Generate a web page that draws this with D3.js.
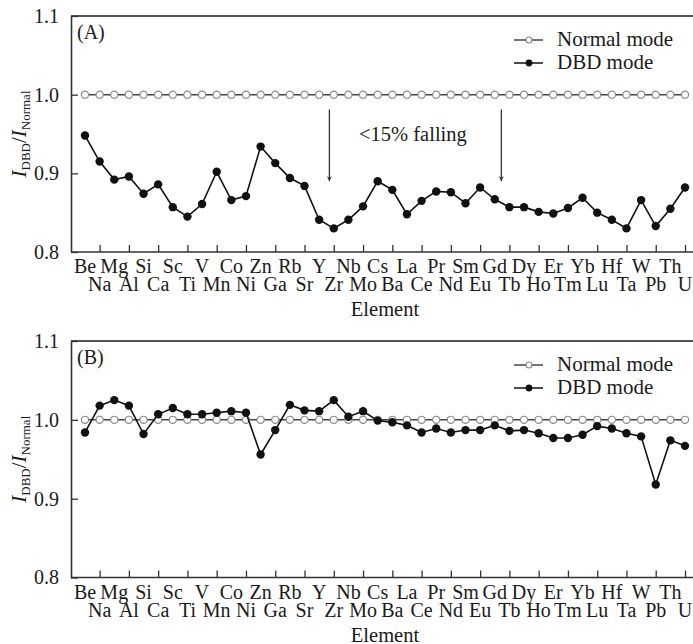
<!DOCTYPE html>
<html>
<head>
<meta charset="utf-8">
<script src="https://cdn.jsdelivr.net/npm/d3@7"></script>
<style>
  body { margin: 0; background: #fff; }
  svg { display: block; }
  text { font-family: "Liberation Serif", "Times New Roman", serif; fill: #1a1a1a; }
</style>
</head>
<body>
<div id="chart"></div>
<script>
var elements = ["Be","Na","Mg","Al","Si","Ca","Sc","Ti","V","Mn","Co","Ni","Zn","Ga",
                "Rb","Sr","Y","Zr","Nb","Mo","Cs","Ba","La","Ce","Pr","Nd","Sm","Eu",
                "Gd","Tb","Dy","Ho","Er","Tm","Yb","Lu","Hf","Ta","W","Pb","Th","U"];

// panel A, DBD / normal
var dbdA = [0.948,0.915,0.892,0.896,0.874,0.886,0.857,0.845,0.861,0.902,0.866,0.871,0.934,0.913,
            0.894,0.884,0.841,0.830,0.841,0.858,0.890,0.879,0.848,0.865,0.877,0.876,0.862,0.882,
            0.867,0.857,0.857,0.851,0.849,0.856,0.869,0.850,0.841,0.830,0.866,0.833,0.855,0.882];

// panel B
var dbdB = [0.984,1.018,1.025,1.018,0.982,1.007,1.015,1.007,1.007,1.009,1.011,1.009,0.956,0.987,
            1.019,1.012,1.011,1.025,1.004,1.011,0.999,0.997,0.993,0.984,0.989,0.984,0.987,0.987,
            0.993,0.986,0.987,0.983,0.977,0.977,0.981,0.992,0.989,0.983,0.979,0.918,0.974,0.967];

var normalVals = elements.map(function(){ return 1.0; });

var yTicks = [0.8, 0.9, 1.0, 1.1];

// annotation in panel A: arrows at fractional element index
var arrowIdx = [16.7, 28.45];
var annotText = "<15% falling";

var width = 693, height = 644;

var svg = d3.select("#chart").append("svg")
  .attr("width", width)
  .attr("height", height)
  .attr("font-family", "Liberation Serif");

svg.append("defs").append("marker")
  .attr("id", "arrowHead")
  .attr("viewBox", "0 0 10 10")
  .attr("refX", 10)
  .attr("refY", 5)
  .attr("markerWidth", 5)
  .attr("markerHeight", 9)
  .attr("markerUnits", "userSpaceOnUse")
  .attr("orient", "auto")
  .append("path")
    .attr("d", "M0,0 L10,5 L0,10 L3,5 Z")
    .attr("fill", "#333");

var x = d3.scaleLinear().domain([0, elements.length - 1]).range([85, 685]);

function drawPanel(top, bottom, tag, values, annotate){
  var left = 71, right = 705;
  var g = svg.append("g");
  var y = d3.scaleLinear().domain([0.8, 1.1]).range([bottom, top]);

  // frame
  g.append("line")
    .attr("x1", left).attr("x2", right)
    .attr("y1", top).attr("y2", top)
    .attr("stroke", "#555").attr("stroke-width", 2);
  g.append("line")
    .attr("x1", right).attr("x2", right)
    .attr("y1", top).attr("y2", bottom)
    .attr("stroke", "#555").attr("stroke-width", 2);

  var yAxis = g.append("g")
    .attr("transform", "translate(" + left + ",0)")
    .call(d3.axisLeft(y).tickValues(yTicks).tickSize(-7).tickSizeOuter(0)
      .tickPadding(12).tickFormat(d3.format(".1f")));
  yAxis.attr("font-family", null);
  yAxis.select(".domain").attr("stroke", "#333").attr("stroke-width", 1.6);
  yAxis.selectAll(".tick line").attr("stroke", "#333").attr("stroke-width", 1.3);
  yAxis.selectAll(".tick text")
    .style("font-size", "20px").attr("fill", "#1a1a1a");

  var oddIdx = d3.range(1, elements.length, 2);
  var xAxis = g.append("g")
    .attr("transform", "translate(0," + bottom + ")")
    .call(d3.axisBottom(x).tickValues(oddIdx).tickSize(-7).tickSizeOuter(0).tickFormat(""));
  xAxis.select(".domain").attr("d", "M" + left + ",0H" + right)
    .attr("stroke", "#333").attr("stroke-width", 1.6);
  xAxis.selectAll(".tick line").attr("stroke", "#333").attr("stroke-width", 1.3);

  g.selectAll(".elLabel")
    .data(elements).enter()
    .append("text")
      .attr("class", "elLabel")
      .attr("x", function(d, i){ return x(i); })
      .attr("y", function(d, i){ return bottom + (i % 2 == 0 ? 21 : 39); })
      .attr("text-anchor", "middle")
      .style("font-size", "20px")
      .text(function(d){ return d; });

  g.append("text")
    .attr("x", 385)
    .attr("y", bottom + 64)
    .attr("text-anchor", "middle")
    .style("font-size", "20.5px")
    .text("Element");

  // y label
  var yl = g.append("text")
    .attr("transform", "translate(26," + ((top + bottom) / 2) + ") rotate(-90)")
    .attr("text-anchor", "middle")
    .style("font-size", "21px");
  yl.append("tspan").style("font-style", "italic").text("I");
  yl.append("tspan").attr("dy", 4).style("font-size", "13px").text("DBD");
  yl.append("tspan").attr("dy", -4).text("/");
  yl.append("tspan").style("font-style", "italic").text("I");
  yl.append("tspan").attr("dy", 4).style("font-size", "13px").text("Normal");

  g.append("text")
    .attr("x", 77)
    .attr("y", top + 23)
    .style("font-size", "20px")
    .text(tag);

  // normal mode
  var line = d3.line()
    .x(function(d, i){ return x(i); })
    .y(function(d){ return y(d); });

  g.append("path")
    .datum(normalVals)
    .attr("d", line)
    .attr("fill", "none")
    .attr("stroke", "#444")
    .attr("stroke-width", 1.5);
  g.selectAll(".normalPt")
    .data(normalVals).enter()
    .append("circle")
      .attr("class", "normalPt")
      .attr("cx", function(d, i){ return x(i); })
      .attr("cy", function(d){ return y(d); })
      .attr("r", 3.6)
      .attr("fill", "#fff")
      .attr("stroke", "#8a8a8a")
      .attr("stroke-width", 1.2);

  // DBD mode
  g.append("path")
    .datum(values)
    .attr("d", line)
    .attr("fill", "none")
    .attr("stroke", "#111")
    .attr("stroke-width", 1.6);
  g.selectAll(".dbdPt")
    .data(values).enter()
    .append("circle")
      .attr("class", "dbdPt")
      .attr("cx", function(d, i){ return x(i); })
      .attr("cy", function(d){ return y(d); })
      .attr("r", 4.2)
      .attr("fill", "#111");

  // legend
  var legendRows = [{name: "Normal mode", open: true, dy: 24},
                    {name: "DBD mode", open: false, dy: 47}];
  legendRows.forEach(function(r){
    var ly = top + r.dy;
    g.append("line")
      .attr("x1", 514).attr("x2", 543)
      .attr("y1", ly).attr("y2", ly)
      .attr("stroke", r.open ? "#444" : "#111")
      .attr("stroke-width", 1.5);
    g.append("circle")
      .attr("cx", 529).attr("cy", ly)
      .attr("r", r.open ? 3 : 3.4)
      .attr("fill", r.open ? "#fff" : "#111")
      .attr("stroke", r.open ? "#8a8a8a" : "none")
      .attr("stroke-width", 1.1);
    g.append("text")
      .attr("x", 557).attr("y", ly + 6)
      .style("font-size", "21px")
      .text(r.name);
  });

  if(annotate){
    g.selectAll(".arrow")
      .data(arrowIdx).enter()
      .append("line")
        .attr("class", "arrow")
        .attr("x1", function(d){ return x(d); })
        .attr("x2", function(d){ return x(d); })
        .attr("y1", y(0.981))
        .attr("y2", y(0.890))
        .attr("stroke", "#333")
        .attr("stroke-width", 1.3)
        .attr("marker-end", "url(#arrowHead)");
    g.append("text")
      .attr("x", 359)
      .attr("y", y(0.9505) + 7)
      .style("font-size", "20.5px")
      .text(annotText);
  }
}

drawPanel(16, 252, "(A)", dbdA, true);
drawPanel(341, 577.5, "(B)", dbdB, false);
</script>
</body>
</html>
